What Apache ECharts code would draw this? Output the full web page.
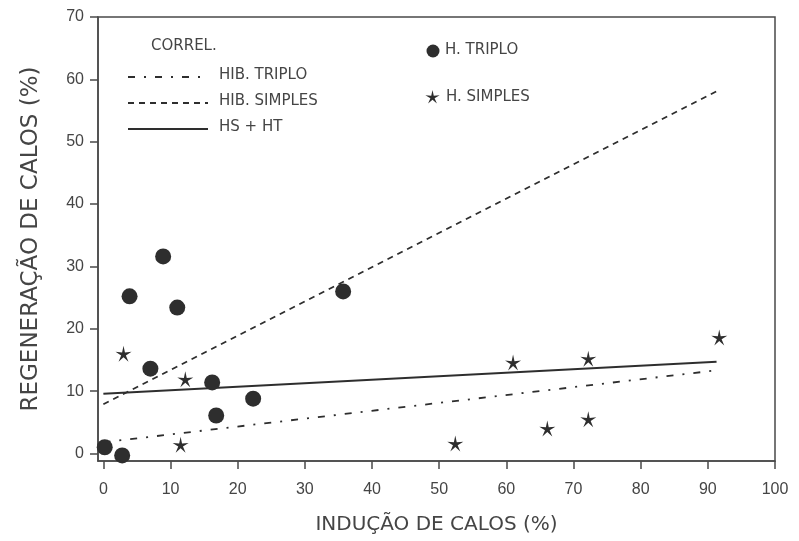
<!DOCTYPE html>
<html>
<head>
<meta charset="utf-8">
<script src="https://cdn.jsdelivr.net/npm/echarts@6/dist/echarts.min.js"></script>
<style>html,body{margin:0;padding:0;background:#fff}#c{width:799px;height:541px}</style>
</head>
<body>
<div id="c"></div>
<script>
// ---- data ----
const xTicks = [0, 10, 20, 30, 40, 50, 60, 70, 80, 90, 100];
const yTicks = [0, 10, 20, 30, 40, 50, 60, 70];

// H. TRIPLO (circles)
const triploX = [0.2, 2.8, 3.9, 8.9, 11.0, 7.0, 16.2, 16.8, 22.3, 35.7];
const triploY = [1.0, -0.3, 25.2, 31.6, 23.4, 13.6, 11.4, 6.1, 8.8, 26.0];

// H. SIMPLES (stars)
const simplesX = [3.0, 12.2, 11.5, 52.4, 61.0, 66.1, 72.2, 72.2, 91.7];
const simplesY = [16.0, 11.9, 1.4, 1.6, 14.6, 4.0, 15.2, 5.5, 18.6];

// correlation lines (end points)
const corTriploX = [0, 91];
const corTriploY = [1.8, 13.3];
const corSimplesX = [0, 91.5];
const corSimplesY = [7.9, 58.2];
const corAllX = [0, 91.3];
const corAllY = [9.6, 14.7];

const legendTitle = 'CORREL.';
const lineNames = ['HIB. TRIPLO', 'HIB. SIMPLES', 'HS + HT'];
const pointNames = ['H. TRIPLO', 'H. SIMPLES'];
const xTitle = 'INDUÇÃO DE CALOS (%)';
const yTitle = 'REGENERAÇÃO DE CALOS (%)';

// ---- build ----
const zip = (a, b) => a.map((v, i) => [v, b[i]]);
const STAR_PTS = [[100,0],[117,76],[195,69],[128,110],[159,181],[100,130],[41,181],[72,110],[5,69],[83,76]];
const STAR = 'path://M' + STAR_PTS.map(p => p.join(',')).join(' L') + ' Z';
const ink = '#2e2e2e';
const txt = '#454545';
const axisC = '#4a4a4a';
const font = 'DejaVu Sans';
const tickFont = 'Liberation Sans';

const lineStyles = [
  {type: [7, 9, 2, 9], width: 1.8, color: ink},
  {type: [6, 5], width: 1.8, color: ink},
  {type: 'solid', width: 2, color: ink}
];

const chart = echarts.init(document.getElementById('c'), null, {renderer: 'canvas'});

const legFont = '15px "' + font + '"';
const graphic = [];
graphic.push({type: 'text', x: 151, y: 39, style: {text: legendTitle, font: legFont, fill: txt}});
const legY = [77, 103, 129];
lineNames.forEach((n, i) => {
  graphic.push({type: 'line', shape: {x1: 128, y1: legY[i], x2: 208, y2: legY[i]},
    style: {stroke: ink, lineWidth: 1.8, lineDash: lineStyles[i].type === 'solid' ? null : lineStyles[i].type}});
  graphic.push({type: 'text', x: 219, y: legY[i] - 9, style: {text: n, font: legFont, fill: txt}});
});
graphic.push({type: 'circle', shape: {cx: 433, cy: 51, r: 6.5}, style: {fill: ink}});
graphic.push({type: 'text', x: 445, y: 43, style: {text: pointNames[0], font: legFont, fill: txt}});
const s = 15 / 200;
graphic.push({type: 'polygon', shape: {points: STAR_PTS.map(p => [425 + p[0] * s, 90 + p[1] * s])}, style: {fill: ink}});
graphic.push({type: 'text', x: 446, y: 90, style: {text: pointNames[1], font: legFont, fill: txt}});

chart.setOption({
  animation: false,
  backgroundColor: '#fff',
  grid: {left: 98, right: 24, top: 17, bottom: 80, show: true, borderColor: axisC, borderWidth: 1.5,
         containLabel: false, outerBoundsMode: 'none'},
  xAxis: {
    type: 'value', min: -0.8, max: 100,
    name: xTitle, nameLocation: 'middle', nameGap: 54,
    nameTextStyle: {fontFamily: font, fontSize: 20, color: txt},
    axisLine: {show: true, onZero: false, lineStyle: {color: axisC, width: 1.5}},
    axisTick: {show: true, length: 8, inside: false, customValues: xTicks, lineStyle: {color: axisC, width: 1.5}},
    axisLabel: {customValues: xTicks, fontFamily: tickFont, fontSize: 16, color: txt, margin: 21},
    splitLine: {show: false}
  },
  yAxis: {
    type: 'value', min: -1.2, max: 70,
    name: yTitle, nameLocation: 'middle', nameGap: 55, nameRotate: 90,
    nameTextStyle: {fontFamily: font, fontSize: 23, color: txt},
    axisLine: {show: true, onZero: false, lineStyle: {color: axisC, width: 1.5}},
    axisTick: {show: true, length: 8, customValues: yTicks, lineStyle: {color: axisC, width: 1.5}},
    axisLabel: {customValues: yTicks, fontFamily: tickFont, fontSize: 16, color: txt, margin: 14},
    splitLine: {show: false}
  },
  graphic: graphic,
  series: [
    {type: 'line', name: lineNames[0], data: zip(corTriploX, corTriploY), symbol: 'none', lineStyle: lineStyles[0], z: 2},
    {type: 'line', name: lineNames[1], data: zip(corSimplesX, corSimplesY), symbol: 'none', lineStyle: lineStyles[1], z: 2},
    {type: 'line', name: lineNames[2], data: zip(corAllX, corAllY), symbol: 'none', lineStyle: lineStyles[2], z: 2},
    {type: 'scatter', name: pointNames[0], data: zip(triploX, triploY), symbol: 'circle', symbolSize: 16, itemStyle: {color: ink, opacity: 1}, z: 3},
    {type: 'scatter', name: pointNames[1], data: zip(simplesX, simplesY), symbol: STAR, symbolSize: 16, itemStyle: {color: ink, opacity: 1}, z: 3}
  ]
});
</script>
</body>
</html>
